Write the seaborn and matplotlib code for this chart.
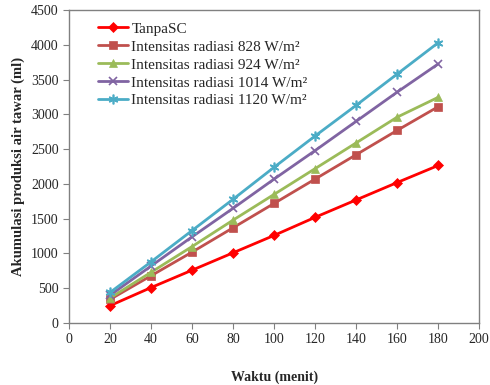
import matplotlib
matplotlib.use("Agg")
import matplotlib.pyplot as plt
import seaborn as sns
import pandas as pd

waktu = [20, 40, 60, 80, 100, 120, 140, 160, 180]
tanpa_sc = [250, 510, 760, 1010, 1260, 1520, 1770, 2020, 2265]
rad_828 = [340, 680, 1020, 1370, 1720, 2070, 2420, 2770, 3110]
rad_924 = [360, 730, 1100, 1480, 1850, 2220, 2590, 2960, 3245]
rad_1014 = [400, 820, 1240, 1650, 2070, 2480, 2900, 3320, 3725]
rad_1120 = [440, 880, 1330, 1780, 2240, 2690, 3130, 3580, 4030]

names = ["TanpaSC",
         "Intensitas radiasi 828 W/m\u00b2",
         "Intensitas radiasi 924 W/m\u00b2",
         "Intensitas radiasi 1014 W/m\u00b2",
         "Intensitas radiasi 1120 W/m\u00b2"]
series = [tanpa_sc, rad_828, rad_924, rad_1014, rad_1120]
colors = ["#FF0000", "#C0504D", "#9BBB59", "#8064A2", "#4BACC6"]
markers = ["D", "s", "^", "x", (6, 2, 0)]
msizes = [5, 6, 6, 6, 7]

rows = []
for n, s in zip(names, series):
    for x, y in zip(waktu, s):
        rows.append({"Waktu": x, "Nilai": y, "Seri": n})
df = pd.DataFrame(rows)

sns.set_style("white")
plt.rcParams['font.family'] = ['Liberation Serif', 'DejaVu Serif']

fig = plt.figure(figsize=(4.9, 3.85), dpi=100)
ax = fig.add_axes([0.141, 0.161, 0.837, 0.813])

for n, c, m, ms in zip(names, colors, markers, msizes):
    d = df[df["Seri"] == n]
    sns.lineplot(data=d, x="Waktu", y="Nilai", ax=ax, color=c, marker=m,
                 markersize=ms, linewidth=2, label=n, markeredgecolor=c,
                 markeredgewidth=1.2 if m in ("x", (6, 2, 0)) else 0.5)

ax.set_xlim(0, 200)
ax.set_ylim(0, 4500)
ax.set_xticks(range(0, 201, 20))
ax.set_yticks(range(0, 4501, 500))
ax.tick_params(axis='both', labelsize=10, length=4, direction='out',
               left=True, bottom=True, color='#808080')
ax.set_xlabel("Waktu (menit)", fontsize=10, fontweight='bold', labelpad=17)
ax.set_ylabel("Akumulasi produksi air tawar (ml)", fontsize=10.5, fontweight='bold', labelpad=4)

for side in ["top", "right", "left", "bottom"]:
    ax.spines[side].set_visible(True)
    ax.spines[side].set_color('#808080')
    ax.spines[side].set_linewidth(1)

leg = ax.legend(loc='upper left', bbox_to_anchor=(0.07, 0.962), frameon=False,
                fontsize=11, handlelength=2.0, handletextpad=0.2,
                labelspacing=0.28, borderaxespad=0.0, borderpad=0.0)

fig.savefig("out.png", dpi=100)
